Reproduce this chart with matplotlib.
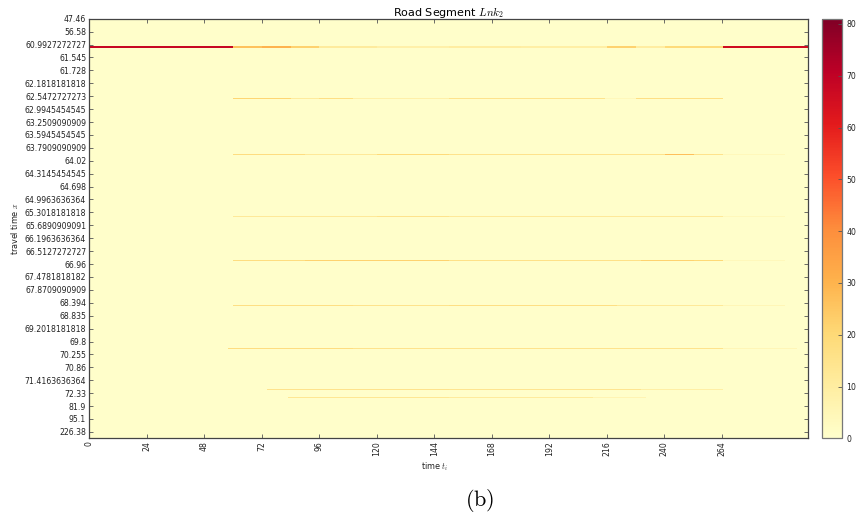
import numpy as np
import matplotlib
matplotlib.use("Agg")
import matplotlib.pyplot as plt

plt.rcParams["mathtext.fontset"] = "cm"
plt.rcParams["font.family"] = "DejaVu Sans"

# Travel-time bins (one row each) and 5-minute time slots (one column each)
n_rows = 325
n_slots = 300
row_tick_step = 10
travel_time_labels = [
    "47.46", "56.58", "60.9927272727", "61.545", "61.728", "62.1818181818",
    "62.5472727273", "62.9945454545", "63.2509090909", "63.5945454545",
    "63.7909090909", "64.02", "64.3145454545", "64.698", "64.9963636364",
    "65.3018181818", "65.6890909091", "66.1963636364", "66.5127272727",
    "66.96", "67.4781818182", "67.8709090909", "68.394", "68.835",
    "69.2018181818", "69.8", "70.255", "70.86", "71.4163636364", "72.33",
    "81.9", "95.1", "226.38",
]
time_ticks = list(range(0, 265, 24))

background_count = 0.5

# Vehicle counts along the busy travel-time rows: (first slot, last slot, count)
row_22 = [(0, 60, 68), (60, 72, 26), (72, 84, 30), (84, 96, 22), (96, 120, 11),
          (120, 150, 8), (150, 180, 10), (180, 216, 9), (216, 228, 22),
          (228, 240, 10), (240, 264, 19), (264, 300, 66)]
row_62 = [(60, 84, 21), (84, 96, 11), (96, 110, 17), (110, 150, 8),
          (150, 215, 15), (215, 228, 4), (228, 264, 17)]
row_105 = [(60, 90, 18), (90, 120, 12), (120, 150, 19), (150, 240, 15),
           (240, 252, 27), (252, 264, 15), (264, 290, 4)]
row_153 = [(60, 120, 12), (120, 150, 15), (150, 264, 12), (264, 290, 4)]
row_187 = [(60, 90, 18), (90, 150, 22), (150, 230, 16), (230, 252, 22),
           (252, 264, 20), (264, 290, 4)]
row_222 = [(60, 110, 17), (110, 150, 15), (150, 220, 17), (220, 264, 12),
           (264, 290, 5)]
row_255 = [(58, 110, 18), (110, 150, 15), (150, 264, 15), (264, 295, 5)]
row_287 = [(74, 150, 15), (150, 230, 14), (230, 264, 9)]
row_293 = [(83, 150, 13), (150, 210, 11), (210, 232, 6)]

streaks = {22: row_22, 62: row_62, 105: row_105, 153: row_153, 187: row_187,
           222: row_222, 255: row_255, 287: row_287, 293: row_293}

counts = np.full((n_rows, n_slots), background_count)
for row, segments in streaks.items():
    for start, end, value in segments:
        counts[row, start:end] = value

fig = plt.figure(figsize=(8.56, 5.20), dpi=100)
ax = fig.add_axes([0.104, 0.157, 0.840, 0.807])
cax = fig.add_axes([0.960, 0.157, 0.024, 0.807])

img = ax.imshow(counts, cmap="YlOrRd", vmin=0, vmax=81, aspect="auto",
                extent=(0, n_slots, n_rows, 0), interpolation="nearest")

ax.set_yticks(np.arange(len(travel_time_labels)) * row_tick_step)
ax.set_yticklabels(travel_time_labels, fontsize=5.6, color="#222222")
ax.set_xticks(time_ticks)
ax.set_xticklabels([str(t) for t in time_ticks], rotation=90, fontsize=5.6,
                   color="#222222")
ax.set_xlim(0, n_slots)
ax.set_ylim(n_rows, 0)
ax.tick_params(direction="in", length=3, width=0.6, color="#555555",
               top=True, right=True, pad=2)
for spine in ax.spines.values():
    spine.set_color("#444444")
    spine.set_linewidth(0.9)

ax.set_title("Road Segment $Lnk_2$", fontsize=8, pad=2)
ax.set_xlabel("time $t_i$", fontsize=5.8, labelpad=3, color="#222222")
ax.xaxis.set_label_coords(0.48, -0.053)
ax.set_ylabel("travel time $x$", fontsize=5.8, labelpad=3, color="#222222")

cbar = fig.colorbar(img, cax=cax, ticks=range(0, 81, 10))
cbar.ax.tick_params(labelsize=5.6, direction="in", length=3, width=0.6,
                    color="#555555", pad=3, labelcolor="#222222")
cbar.outline.set_edgecolor("#777777")
cbar.outline.set_linewidth(0.9)

fig.text(0.561, 0.038, r"$\mathrm{(b)}$", fontsize=16, ha="center", va="center")

fig.savefig("out.png", dpi=100)
